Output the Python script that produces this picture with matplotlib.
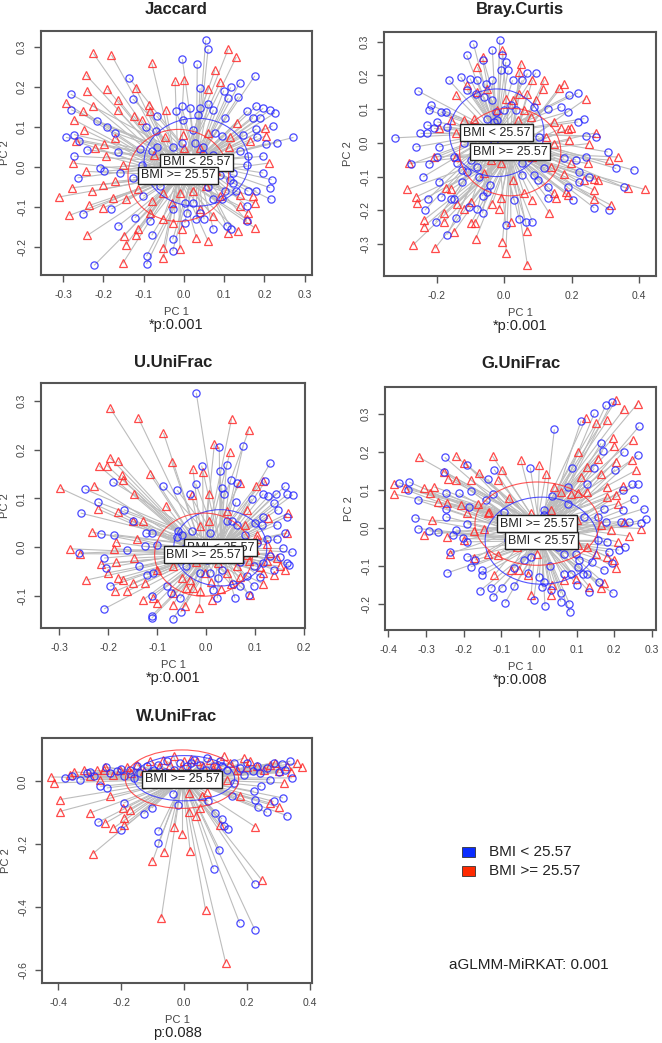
import matplotlib
matplotlib.use("Agg")
import matplotlib.pyplot as plt
from matplotlib.patches import Ellipse, Rectangle
from matplotlib.collections import LineCollection
import numpy as np

plt.rcParams['font.family'] = ['Liberation Sans', 'DejaVu Sans']

LOW_LABEL = "BMI < 25.57"
HIGH_LABEL = "BMI >= 25.57"
TITLES = ["Jaccard", "Bray.Curtis", "U.UniFrac", "G.UniFrac", "W.UniFrac"]
PVALUES = ["*p:0.001", "*p:0.001", "*p:0.001", "*p:0.008", "p:0.088"]
OMNIBUS = "aGLMM-MiRKAT: 0.001"

# ---------------- Jaccard ----------------
JAC_HIGH = [(-0.225,0.284),(-0.18,0.28),(-0.08,0.26),(0.11,0.295),(0.13,0.275),(-0.243,0.23),(-0.24,0.19),
 (-0.19,0.195),(-0.12,0.197),(-0.022,0.215),(0.0,0.218),(0.06,0.195),(0.077,0.243),(0.09,0.213),(-0.293,0.16),
 (-0.225,0.153),(-0.25,0.139),(-0.163,0.168),(-0.165,0.143),(-0.125,0.128),(-0.088,0.155),(-0.085,0.139),
 (-0.045,0.143),(-0.273,0.118),(-0.248,0.093),(-0.171,0.072),(-0.105,0.118),(-0.047,0.076),(-0.003,0.081),
 (0.06,0.086),(0.114,0.076),(0.131,0.11),(0.201,0.097),(0.203,0.078),(0.164,0.064),(-0.267,0.064),(-0.199,0.057),
 (-0.221,0.047),(-0.276,0.01),(-0.243,-0.011),(-0.194,0.027),(-0.151,0.006),(-0.075,0.031),(0.0,0.047),(0.04,0.047),
 (0.113,0.051),(0.212,0.01),(-0.279,-0.052),(-0.229,-0.061),(-0.2,-0.044),(-0.171,-0.036),(-0.311,-0.075),
 (-0.235,-0.096),(-0.2,-0.102),(-0.176,-0.077),(-0.144,-0.081),(-0.113,-0.056),(-0.08,-0.086),(-0.051,-0.065),
 (-0.01,-0.065),(0.023,-0.061),(0.056,-0.048),(0.089,-0.073),(0.139,-0.069),(0.172,-0.073),(0.176,-0.09),
 (-0.285,-0.121),(-0.24,-0.171),(-0.149,-0.173),(-0.144,-0.194),(-0.118,-0.169),(-0.084,-0.115),(-0.053,-0.131),
 (-0.026,-0.14),(-0.006,-0.156),(0.031,-0.177),(0.06,-0.185),(0.073,-0.123),(0.11,-0.164),(0.135,-0.16),
 (0.156,-0.131),(0.176,-0.152),(-0.152,-0.241),(-0.051,-0.202),(-0.051,-0.227),(-0.01,-0.206),(-0.113,-0.156),
 (0.04,-0.106),(0.139,-0.098),(0.16,-0.115),(0.02,-0.03),(-0.06,-0.02),(0.08,-0.01),(0.05,0.0),(-0.03,-0.09)]
JAC_LOW = [(0.054,0.317),(0.06,0.295),(-0.004,0.27),(0.033,0.257),(-0.136,0.222),(0.176,0.228),(0.04,0.197),
 (0.099,0.191),(0.116,0.199),(0.139,0.211),(0.11,0.172),(0.135,0.176),(-0.281,0.182),(-0.127,0.17),(-0.28,0.143),
 (-0.006,0.153),(0.015,0.147),(0.04,0.147),(0.06,0.157),(0.073,0.143),(0.157,0.14),(0.18,0.153),(0.197,0.147),
 (0.214,0.143),(0.226,0.135),(-0.217,0.114),(-0.19,0.101),(-0.172,0.086),(-0.094,0.101),(-0.068,0.128),
 (-0.02,0.139),(-0.002,0.118),(0.036,0.13),(0.102,0.122),(0.171,0.122),(0.189,0.122),(0.22,0.103),(-0.293,0.074),
 (-0.273,0.081),(-0.26,0.064),(-0.24,0.043),(-0.07,0.089),(0.023,0.093),(0.077,0.085),(0.094,0.078),(0.147,0.081),
 (0.18,0.095),(0.182,0.076),(0.272,0.074),(0.23,0.061),(0.203,0.058),(-0.273,0.027),(-0.264,-0.027),(-0.209,-0.002),
 (-0.198,-0.011),(-0.163,0.037),(-0.159,-0.015),(-0.126,-0.027),(-0.105,0.006),(-0.101,-0.073),(-0.109,0.045),
 (-0.08,0.039),(-0.068,0.051),(-0.026,0.051),(-0.006,0.06),(0.027,0.061),(0.048,0.051),(0.048,0.033),(0.073,0.031),
 (0.139,0.039),(0.16,0.027),(0.197,0.027),(0.156,0.006),(0.197,-0.015),(0.218,-0.032),(0.214,-0.052),(0.18,-0.061),
 (0.16,-0.061),(0.215,-0.081),(0.114,-0.032),(0.123,-0.04),(0.102,-0.061),(0.094,-0.081),(0.073,-0.081),
 (0.023,-0.091),(0.002,-0.091),(-0.026,-0.106),(0.007,-0.115),(0.04,-0.115),(0.031,-0.131),(0.05,-0.131),
 (0.073,-0.156),(0.106,-0.148),(0.118,-0.156),(0.156,-0.135),(0.156,-0.098),(-0.251,-0.117),(-0.18,-0.105),
 (-0.163,-0.148),(-0.122,-0.127),(-0.084,-0.135),(-0.08,-0.171),(-0.028,-0.181),(-0.028,-0.21),(-0.093,-0.223),
 (-0.093,-0.243),(-0.223,-0.246),(0.002,-0.14),(-0.06,-0.048),(0.123,-0.015),(0.09,-0.02),(0.13,-0.06),(0.06,-0.05)]

# ---------------- Bray.Curtis ----------------
BC_LOW = [(-0.013,0.306),(-0.091,0.294),(-0.111,0.261),(-0.035,0.277),(-0.064,0.247),(-0.005,0.26),(0.005,0.24),
 (0.012,0.215),(-0.01,0.215),(-0.035,0.186),(-0.129,0.196),(-0.101,0.191),(-0.079,0.186),(-0.163,0.186),
 (-0.054,0.176),(0.025,0.186),(0.054,0.186),(0.069,0.206),(0.094,0.208),(-0.255,0.154),(-0.218,0.112),
 (-0.223,0.097),(-0.188,0.092),(-0.173,0.092),(-0.109,0.156),(-0.084,0.146),(-0.059,0.136),(-0.035,0.126),
 (-0.025,0.092),(0.02,0.112),(0.0,0.097),(0.035,0.097),(-0.05,0.072),(-0.02,0.067),(0.193,0.141),(0.218,0.148),
 (0.168,0.107),(0.188,0.092),(0.218,0.062),(0.238,0.072),(0.089,0.107),(0.129,0.102),(-0.198,0.062),(-0.228,0.052),
 (-0.248,0.028),(-0.228,0.03),(-0.322,0.015),(-0.262,-0.012),(-0.193,-0.012),(-0.168,0.047),(-0.208,0.043),
 (-0.2,-0.042),(-0.277,-0.063),(-0.223,-0.063),(-0.193,-0.116),(-0.24,-0.101),(-0.149,-0.042),(-0.139,-0.061),
 (-0.124,-0.081),(-0.099,-0.051),(-0.079,-0.071),(-0.109,-0.086),(-0.124,-0.116),(-0.074,-0.101),(-0.042,-0.125),
 (-0.051,-0.145),(-0.064,-0.158),(-0.186,-0.162),(-0.158,-0.167),(-0.149,-0.168),(-0.226,-0.167),(-0.235,-0.2),
 (-0.203,-0.234),(-0.168,-0.272),(-0.144,-0.224),(-0.104,-0.19),(-0.079,-0.195),(-0.064,-0.209),(0.028,-0.17),
 (0.005,-0.244),(0.045,-0.227),(0.064,-0.234),(0.084,-0.234),(0.054,-0.061),(0.054,-0.096),(0.089,-0.096),
 (0.099,-0.111),(0.129,-0.13),(0.129,-0.165),(0.119,-0.076),(0.079,-0.027),(0.104,0.018),(0.178,-0.046),
 (0.213,-0.051),(0.223,-0.086),(0.223,-0.116),(0.243,-0.042),(0.252,-0.101),(0.272,0.018),(0.243,0.02),
 (0.307,-0.027),(0.332,-0.076),(0.356,-0.132),(0.384,-0.081),(0.312,-0.198),(0.267,-0.193),(0.203,-0.17),
 (0.188,-0.13),(-0.03,0.062),(-0.059,-0.022),(-0.12,0.0),(-0.08,0.03),(-0.03,0.0)]
BC_HIGH = [(-0.064,0.255),(-0.079,0.225),(-0.005,0.275),(0.05,0.235),(0.045,0.21),(0.084,0.186),(0.119,0.186),
 (0.114,0.161),(0.178,0.176),(0.163,0.164),(0.243,0.131),(-0.144,0.141),(-0.109,0.171),(-0.079,0.151),(-0.05,0.161),
 (0.005,0.131),(0.045,0.146),(0.025,0.126),(0.069,0.146),(0.094,0.126),(0.059,0.097),(0.079,0.077),(-0.089,0.072),
 (-0.119,0.067),(-0.158,0.067),(-0.193,0.043),(-0.144,0.028),(0.149,0.062),(0.168,0.043),(0.188,0.04),(0.198,0.043),
 (0.124,0.018),(0.149,-0.002),(0.193,0.008),(0.252,-0.002),(0.272,0.03),(0.312,-0.051),(0.337,-0.042),
 (0.248,-0.061),(0.198,-0.061),(0.178,-0.091),(0.139,-0.071),(0.084,-0.042),(-0.01,-0.061),(-0.04,-0.051),
 (-0.144,-0.042),(-0.208,-0.042),(-0.282,-0.061),(-0.287,-0.138),(-0.26,-0.16),(-0.258,-0.178),(-0.238,-0.229),
 (-0.238,-0.249),(-0.27,-0.303),(-0.205,-0.313),(-0.178,-0.209),(-0.178,-0.234),(-0.149,-0.264),(-0.173,-0.135),
 (-0.158,-0.138),(-0.139,-0.18),(-0.119,-0.195),(-0.099,-0.175),(-0.099,-0.239),(-0.087,-0.239),(-0.084,-0.284),
 (-0.035,-0.18),(-0.015,-0.195),(-0.01,-0.165),(0.02,-0.234),(-0.005,-0.293),(0.005,-0.326),(0.069,-0.262),
 (0.069,-0.363),(0.084,-0.17),(0.025,-0.111),(0.059,-0.15),(0.134,-0.209),(0.149,-0.15),(0.154,-0.165),
 (0.183,-0.145),(0.188,-0.155),(0.238,-0.111),(0.267,-0.106),(0.277,-0.111),(0.267,-0.14),(0.267,-0.168),
 (0.317,-0.185),(0.366,-0.135),(0.416,-0.138),(-0.02,0.097),(0.04,0.067),(0.03,-0.03),(0.1,-0.02),(-0.06,-0.09)]

# ---------------- U.UniFrac ----------------
UU_LOW = [(-0.02,0.316),(-0.009,0.167),(0.027,0.205),(0.076,0.208),(0.131,0.172),(0.042,0.169),(0.029,0.157),
 (0.05,0.138),(0.064,0.132),(0.032,0.121),(0.036,0.11),(-0.021,0.13),(-0.033,0.108),(-0.059,0.117),(-0.087,0.125),
 (-0.189,0.133),(-0.247,0.119),(-0.22,0.092),(-0.256,0.07),(-0.168,0.077),(-0.149,0.053),(-0.215,0.027),
 (-0.187,0.026),(-0.26,-0.012),(-0.208,-0.022),(-0.162,-0.006),(-0.204,-0.042),(-0.196,-0.08),(-0.208,-0.126),
 (-0.123,0.029),(-0.111,0.029),(-0.125,0.002),(-0.101,0.005),(-0.136,-0.039),(-0.121,-0.056),(-0.108,-0.052),
 (-0.111,-0.099),(-0.111,-0.14),(-0.111,-0.145),(-0.08,-0.08),(-0.068,-0.147),(-0.052,-0.133),(-0.053,-0.104),
 (-0.072,-0.093),(-0.058,0.033),(-0.06,0.022),(-0.05,0.026),(-0.029,0.033),(-0.043,-0.001),(-0.022,-0.008),
 (-0.04,-0.039),(-0.012,-0.052),(0.008,-0.052),(0.025,-0.063),(0.015,-0.087),(0.023,-0.104),(0.056,-0.076),
 (0.069,-0.08),(0.059,-0.104),(0.087,-0.097),(0.097,-0.08),(0.042,0.053),(0.052,0.053),(0.063,0.046),(0.08,0.026),
 (0.1,0.05),(0.093,0.099),(0.117,0.11),(0.121,0.135),(0.127,0.104),(0.143,0.11),(0.161,0.125),(0.166,0.108),
 (0.177,0.107),(0.138,0.091),(0.146,0.077),(0.165,0.063),(0.117,0.063),(0.114,0.046),(0.144,0.046),(0.161,0.029),
 (0.144,0.016),(0.124,0.016),(0.104,0.009),(0.175,-0.01),(0.158,-0.001),(0.131,-0.018),(0.165,-0.032),
 (0.17,-0.037),(0.138,-0.046),(0.117,-0.032),(0.097,-0.039),(0.083,-0.059),(0.032,-0.046),(0.049,-0.018),
 (0.001,-0.025),(0.061,0.092),(0.008,0.029),(0.07,-0.03),(0.11,-0.06),(0.15,-0.02),(0.09,0.0)]
UU_HIGH = [(-0.196,0.285),(-0.138,0.264),(-0.087,0.234),(0.052,0.262),(0.087,0.239),(0.017,0.212),(0.049,0.194),
 (-0.196,0.183),(-0.179,0.176),(-0.219,0.167),(-0.202,0.167),(-0.07,0.174),(-0.171,0.147),(-0.169,0.138),
 (-0.114,0.149),(-0.027,0.16),(-0.007,0.153),(-0.298,0.121),(-0.228,0.126),(-0.147,0.11),(-0.22,0.078),
 (-0.179,0.072),(-0.128,0.053),(-0.15,0.053),(-0.082,0.085),(-0.029,0.106),(0.005,0.108),(0.069,0.132),
 (0.102,0.125),(0.117,0.135),(0.084,0.077),(0.042,0.074),(-0.012,0.043),(0.007,0.053),(-0.232,0.031),
 (-0.184,0.01),(-0.14,0.017),(-0.277,-0.003),(-0.257,-0.013),(-0.187,-0.003),(-0.147,-0.022),(-0.215,-0.035),
 (-0.183,-0.031),(-0.245,-0.067),(-0.2,-0.052),(-0.179,-0.063),(-0.17,-0.067),(-0.162,-0.09),(-0.186,-0.09),
 (-0.149,-0.073),(-0.125,-0.072),(-0.101,-0.046),(-0.068,-0.039),(-0.05,-0.063),(-0.033,-0.066),(-0.04,-0.083),
 (-0.026,-0.083),(-0.012,-0.09),(-0.128,-0.107),(-0.108,-0.104),(-0.101,-0.114),(-0.067,-0.117),(-0.043,-0.121),
 (-0.014,-0.124),(0.012,-0.107),(-0.067,-0.093),(-0.002,-0.052),(0.025,-0.032),(0.042,-0.052),(0.064,-0.039),
 (0.09,-0.097),(0.117,-0.075),(0.104,0.026),(0.104,0.017),(0.124,0.007),(0.131,-0.012),(0.144,-0.022),
 (0.124,-0.029),(0.117,-0.052),(0.138,-0.056),(0.151,-0.039),(0.161,-0.046),(0.166,0.029),(0.1,-0.005),
 (0.087,-0.029),(0.083,-0.015),(0.056,0.002),(0.168,0.07),(0.127,0.06),(0.08,0.046),(0.01,-0.07),(0.07,-0.06),
 (-0.02,-0.03),(0.03,-0.085),(0.11,-0.04),(0.05,-0.075)]

# ---------------- G.UniFrac ----------------
GU_LOW = [(0.041,0.26),(-0.023,0.159),(-0.25,0.186),(-0.253,0.148),(-0.19,0.165),(-0.119,0.154),(-0.136,0.128),
 (-0.181,0.098),(-0.212,0.091),(-0.247,0.091),(-0.123,0.089),(-0.141,0.073),(-0.185,0.055),(-0.247,0.051),
 (-0.345,0.121),(-0.371,0.119),(-0.349,0.099),(-0.322,0.073),(-0.329,0.026),(-0.321,-0.002),(-0.291,-0.008),
 (-0.269,-0.011),(-0.247,0.029),(-0.221,-0.006),(-0.229,-0.019),(-0.203,-0.028),(-0.19,0.011),(-0.19,-0.037),
 (-0.236,-0.063),(-0.243,-0.119),(-0.19,-0.077),(-0.181,-0.103),(-0.17,-0.085),(-0.15,-0.112),(-0.15,-0.125),
 (-0.156,-0.166),(-0.128,-0.16),(-0.121,-0.182),(-0.099,-0.158),(-0.09,-0.198),(-0.066,-0.154),(-0.066,-0.107),
 (-0.039,-0.085),(-0.022,-0.077),(0.001,-0.131),(0.007,-0.156),(0.014,-0.143),(-0.014,-0.191),(0.016,-0.207),
 (0.032,-0.165),(0.058,-0.173),(0.058,-0.195),(0.081,-0.2),(0.082,-0.222),(0.067,-0.121),(0.085,-0.121),
 (0.103,-0.103),(0.116,-0.121),(0.129,-0.121),(0.107,-0.085),(0.098,-0.068),(0.134,-0.169),(0.16,-0.143),
 (0.174,-0.112),(0.196,-0.173),(0.193,-0.094),(0.213,-0.059),(0.229,-0.05),(0.187,-0.063),(0.156,-0.033),
 (0.182,-0.037),(0.178,0.016),(0.156,0.029),(0.174,0.051),(0.218,0.016),(0.24,0.016),(0.253,0.077),(0.28,0.051),
 (0.284,0.022),(0.271,0.013),(0.222,0.047),(0.246,0.115),(0.262,0.115),(0.222,0.101),(0.202,0.154),(0.225,0.201),
 (0.262,0.192),(0.266,0.268),(0.194,0.333),(0.178,0.324),(0.147,0.302),(0.112,0.283),(0.165,0.223),(0.169,0.203),
 (0.147,0.157),(0.089,0.159),(0.129,0.117),(0.076,0.108),(0.036,0.084),(0.076,0.064),(0.12,0.029),(0.014,0.047),
 (0.014,0.033),(-0.092,0.042),(-0.052,0.003),(-0.083,-0.033),(0.014,-0.015),(0.05,-0.05),(0.067,-0.068),
 (0.03,-0.1),(0.1,-0.15),(-0.03,-0.12),(0.14,-0.09)]
GU_HIGH = [(-0.318,0.186),(-0.221,0.189),(-0.123,0.189),(-0.048,0.179),(0.001,0.165),(0.019,0.143),(-0.097,0.152),
 (-0.198,0.172),(-0.159,0.145),(-0.252,0.148),(-0.241,0.13),(-0.384,0.115),(-0.384,0.089),(-0.356,0.104),
 (-0.305,0.104),(-0.278,0.108),(-0.29,0.092),(-0.269,0.069),(-0.243,0.066),(-0.221,0.126),(-0.181,0.126),
 (-0.11,0.126),(-0.207,0.06),(-0.19,0.038),(-0.163,0.063),(-0.132,0.042),(-0.305,-0.019),(-0.283,0.02),
 (-0.243,-0.024),(-0.236,-0.068),(-0.2,-0.033),(-0.172,-0.008),(-0.145,-0.002),(-0.172,-0.081),(-0.136,-0.068),
 (-0.11,-0.072),(-0.119,-0.125),(-0.074,-0.112),(-0.052,-0.112),(-0.03,-0.125),(-0.021,-0.178),(0.032,-0.178),
 (0.036,-0.151),(0.067,-0.138),(0.098,-0.134),(0.134,-0.156),(0.165,-0.16),(0.174,-0.147),(0.205,-0.107),
 (0.2,-0.085),(0.182,-0.077),(0.151,-0.068),(0.129,-0.05),(0.103,-0.046),(0.209,-0.037),(0.24,-0.022),
 (0.271,-0.002),(0.227,0.016),(0.191,-0.006),(0.165,0.007),(0.209,0.064),(0.205,0.086),(0.182,0.082),(0.182,0.108),
 (0.222,0.11),(0.129,0.095),(0.103,0.091),(0.085,0.089),(0.058,0.095),(0.041,0.108),(0.112,0.135),(0.129,0.161),
 (0.165,0.143),(0.205,0.174),(0.258,0.152),(0.246,0.179),(0.249,0.232),(0.196,0.236),(0.2,0.216),(0.103,0.201),
 (0.156,0.183),(0.125,0.289),(0.151,0.276),(0.182,0.284),(0.205,0.337),(0.227,0.315),(0.262,0.328),
 (-0.136,0.038),(-0.021,0.038),(0.032,0.047),(-0.057,-0.05),(-0.004,-0.068),(0.067,-0.033),(0.1,0.02),
 (-0.08,0.08),(0.0,0.0)]

# ---------------- W.UniFrac ----------------
WU_LOW = [(-0.378,0.011),(-0.357,0.016),(-0.331,0.005),(-0.309,0.027),(-0.288,0.016),(-0.267,-0.016),(-0.246,-0.021),
 (-0.235,0.027),(-0.214,0.032),(-0.193,0.016),(-0.172,0.037),(-0.161,0.011),(-0.14,0.027),(-0.119,0.048),
 (-0.097,0.037),(-0.082,0.053),(-0.055,0.064),(-0.034,0.037),(-0.013,0.058),(0.008,0.048),(0.03,0.069),(0.051,0.053),
 (0.072,0.074),(0.093,0.048),(0.114,0.064),(0.136,0.037),(0.157,0.058),(0.178,0.042),(0.199,0.058),(0.22,0.032),
 (0.242,0.027),(0.263,0.042),(0.284,0.058),(0.31,0.056),(0.337,0.064),(0.342,0.011),(0.321,0.037),(0.273,0.005),
 (0.157,-0.005),(0.051,0.005),(-0.076,0.0),(-0.3,0.03),(-0.25,0.045),(-0.15,0.05),(-0.06,0.03),(0.02,0.06),
 (0.12,0.05),(0.23,0.05),(0.3,0.03),(-0.2,0.04),(0.07,0.035),(0.19,0.02),
 (-0.193,-0.069),(-0.275,-0.131),(-0.201,-0.154),(-0.129,-0.103),(-0.103,-0.085),(-0.036,-0.04),(-0.021,-0.076),
 (-0.082,-0.159),(-0.082,-0.196),(0.077,-0.064),(0.099,-0.101),(0.12,-0.12),(0.125,-0.141),(0.139,-0.152),
 (0.112,-0.218),(0.093,-0.279),(0.151,-0.048),(0.222,-0.032),(0.225,-0.058),(0.233,-0.082),(0.263,-0.099),
 (0.284,-0.064),(0.314,-0.053),(0.326,-0.109),(0.224,-0.326),(0.176,-0.451),(0.224,-0.472),(0.244,-0.016)]
WU_HIGH = [(-0.423,0.014),(-0.413,-0.005),(-0.362,0.021),(-0.299,0.018),(-0.277,0.035),(-0.251,0.046),(-0.225,0.021),
 (-0.203,0.037),(-0.182,0.046),(-0.15,0.053),(-0.129,0.032),(-0.108,0.064),(-0.066,0.069),(-0.044,0.053),
 (-0.034,0.08),(-0.002,0.064),(0.014,0.037),(0.04,0.064),(0.061,0.048),(0.083,0.069),(0.104,0.053),(0.125,0.08),
 (0.146,0.058),(0.167,0.037),(0.189,0.074),(0.21,0.064),(0.231,0.048),(0.252,0.037),(0.273,0.053),(0.3,0.032),
 (0.326,0.048),(0.358,0.058),(0.374,0.046),(-0.256,0.037),(-0.32,0.037),(-0.267,0.005),(-0.119,0.0),(0.136,0.005),
 (-0.35,0.03),(-0.17,0.025),(-0.08,0.045),(0.02,0.07),(0.09,0.04),(0.2,0.045),(0.29,0.06),(0.34,0.03),(-0.01,0.04),
 (-0.396,-0.058),(-0.396,-0.096),(-0.301,-0.101),(-0.251,-0.133),(-0.225,-0.149),(-0.237,-0.046),(-0.193,-0.117),
 (-0.191,-0.138),(-0.172,-0.092),(-0.195,-0.085),(-0.29,-0.23),(-0.101,-0.255),(-0.064,-0.226),(-0.034,-0.145),
 (-0.007,-0.167),(0.019,-0.223),(0.016,-0.037),(0.014,-0.099),(0.038,-0.109),(0.049,-0.085),(0.056,-0.048),
 (0.072,-0.035),(-0.073,-0.435),(0.068,-0.411),(0.132,-0.579),(0.247,-0.315),(0.226,-0.145),(0.273,-0.069),
 (0.3,-0.082),(0.316,-0.005),(0.114,-0.138),(0.178,-0.048)]

# Group centroids (low, high)
CENTROIDS = [((0.031, 0.012), (-0.014, -0.021)),
             ((-0.022, 0.030), (0.018, -0.027)),
             ((0.029, -0.001), (-0.005, -0.015)),
             ((0.007, -0.034), (-0.005, 0.011)),
             ((0.000, 0.010), (-0.007, 0.007))]
# Ellipse semi-axes (low, high)
ELLIPSES = [((0.13, 0.11), (0.125, 0.115)),
            ((0.14, 0.13), (0.15, 0.13)),
            ((0.095, 0.078), (0.10, 0.085)),
            ((0.15, 0.115), (0.165, 0.11)),
            ((0.16, 0.072), (0.18, 0.093))]

DATA = [(JAC_LOW, JAC_HIGH), (BC_LOW, BC_HIGH), (UU_LOW, UU_HIGH), (GU_LOW, GU_HIGH), (WU_LOW, WU_HIGH)]
XLIMS = [(-0.355, 0.318), (-0.356, 0.45), (-0.337, 0.202), (-0.409, 0.311), (-0.452, 0.406)]
YLIMS = [(-0.27, 0.34), (-0.395, 0.329), (-0.165, 0.336), (-0.27, 0.372), (-0.642, 0.138)]
XTICKS = [np.arange(-0.3, 0.31, 0.1), np.arange(-0.2, 0.41, 0.2), np.arange(-0.3, 0.21, 0.1),
          np.arange(-0.4, 0.31, 0.1), np.arange(-0.4, 0.41, 0.2)]
YTICKS = [np.arange(-0.2, 0.31, 0.1), np.arange(-0.3, 0.31, 0.1), np.arange(-0.1, 0.31, 0.1),
          np.arange(-0.2, 0.31, 0.1), np.arange(-0.6, 0.01, 0.2)]

# layout in pixels (left, right, top, bottom)
W, H = 662, 1043
BOXES = [(41, 312, 31, 275), (384, 656, 32, 276), (41, 305, 383, 628), (385, 656, 387, 630), (42, 312, 738, 983)]
TITLE_BASE = [14, 14, 367, 368, 721]

BLUE = '#2a2aff'
RED = '#ff2a2a'
GREY = '#bdbdbd'
AXC = '#555555'

fig = plt.figure(figsize=(W/100, H/100), dpi=100)

def fmt(v):
    s = f"{v:.1f}"
    return "0.0" if s == "-0.0" else s

for i in range(5):
    L, R, T, B = BOXES[i]
    ax = fig.add_axes([L/W, 1 - B/H, (R-L)/W, (B-T)/H])
    ax.set_xlim(*XLIMS[i]); ax.set_ylim(*YLIMS[i])
    low, high = DATA[i]
    (cl, ch) = CENTROIDS[i]
    (el, eh) = ELLIPSES[i]
    # spiders
    for pts, c in ((low, cl), (high, ch)):
        segs = [[p, c] for p in pts]
        ax.add_collection(LineCollection(segs, colors=GREY, linewidths=0.8, zorder=1))
    # points
    lx, ly = zip(*low); hx, hy = zip(*high)
    ax.plot(hx, hy, ls='none', marker='^', ms=6.2, mfc='none', mec=RED, mew=0.9, alpha=0.85, zorder=2)
    ax.plot(lx, ly, ls='none', marker='o', ms=5.2, mfc='none', mec=BLUE, mew=0.9, alpha=0.85, zorder=3)
    # ellipses
    ax.add_patch(Ellipse(cl, 2*el[0], 2*el[1], fill=False, ec=BLUE, lw=0.8, alpha=0.8, zorder=4))
    ax.add_patch(Ellipse(ch, 2*eh[0], 2*eh[1], fill=False, ec=RED, lw=0.8, alpha=0.8, zorder=4))
    # labels
    bb = dict(boxstyle='square,pad=0.2', fc='white', ec='#222222', lw=1.0)
    ax.text(cl[0], cl[1], LOW_LABEL, ha='center', va='center', fontsize=9, color='#222222', bbox=bb, zorder=5)
    ax.text(ch[0], ch[1], HIGH_LABEL, ha='center', va='center', fontsize=9, color='#222222', bbox=bb, zorder=6)
    # axes styling
    ax.set_xticks(XTICKS[i]); ax.set_yticks(YTICKS[i])
    ax.set_xticklabels([fmt(v) for v in XTICKS[i]])
    ax.set_yticklabels([fmt(v) for v in YTICKS[i]], rotation=90, va='center')
    ax.tick_params(axis='both', length=5, width=1, color=AXC, labelcolor='#444444', labelsize=7.5)
    ax.tick_params(axis='x', pad=6)
    ax.tick_params(axis='y', pad=5)
    for s in ax.spines.values():
        s.set_color(AXC); s.set_linewidth(1.5)
    cx = (L + R) / 2 / W
    fig.text(cx, 1 - TITLE_BASE[i]/H, TITLES[i], ha='center', va='baseline', fontsize=12, fontweight='bold', color='#222222')
    fig.text(cx, 1 - (B + 37)/H, "PC 1", ha='center', va='center', fontsize=8, color='#444444')
    fig.text(cx, 1 - (B + 50)/H, PVALUES[i], ha='center', va='center', fontsize=10.5, color='#222222')
    fig.text((L - 36)/W, 1 - (T + B)/2/H, "PC 2", ha='center', va='center', rotation=90, fontsize=8, color='#444444')

# legend
for k, (lab, col) in enumerate(((LOW_LABEL, '#0a2cff'), (HIGH_LABEL, '#ff2a00'))):
    yc = 852 + 19 * k
    fig.patches.append(Rectangle((462/W, 1 - (yc + 5)/H), 13/W, 10/H, transform=fig.transFigure,
                                 fc=col, ec='#333333', lw=0.6))
    fig.text(489/W, 1 - yc/H, lab, ha='left', va='center', fontsize=11, color='#222222')
fig.text(529/W, 1 - 965/H, OMNIBUS, ha='center', va='center', fontsize=11, color='#222222')

fig.savefig("out.png", dpi=100)
